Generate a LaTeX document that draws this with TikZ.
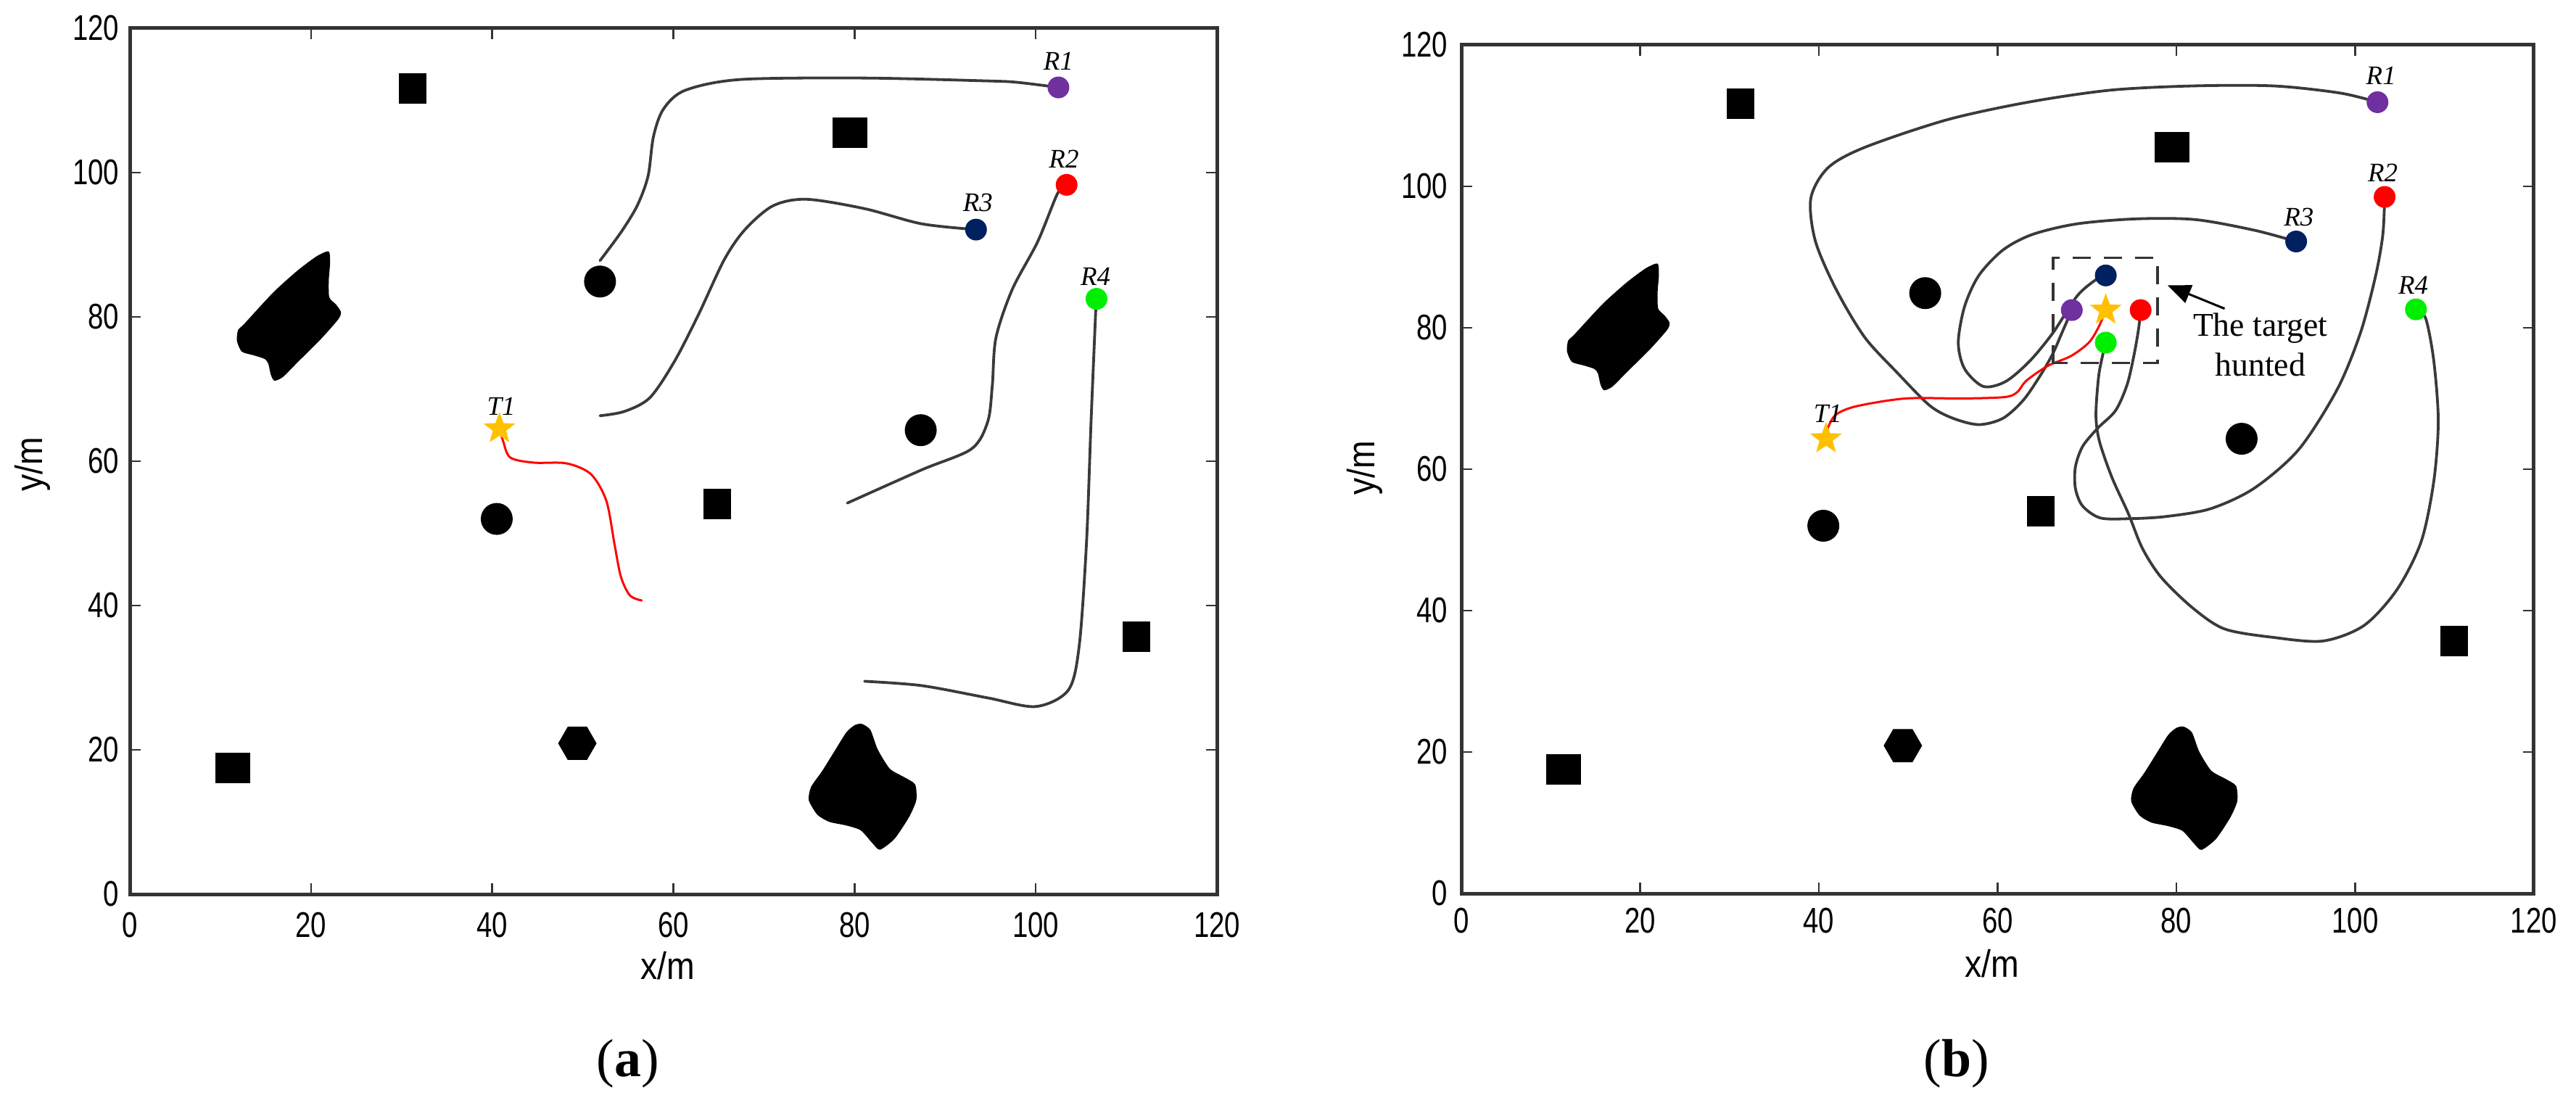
\documentclass[tikz,border=0pt]{standalone}
\usepackage{fontspec}
\setmainfont{Liberation Serif}
\newfontfamily\tickfont[FakeStretch=0.78]{Liberation Sans}
\newfontfamily\axfont[FakeStretch=0.88]{Liberation Sans}
\usetikzlibrary{shapes.geometric,arrows.meta}
\definecolor{rpurple}{HTML}{7030A0}
\definecolor{rnavy}{HTML}{002060}
\definecolor{rred}{HTML}{FF0000}
\definecolor{rgreen}{HTML}{00EE00}
\definecolor{rgold}{HTML}{FFC000}
\definecolor{axgray}{HTML}{333333}
\definecolor{trajgray}{HTML}{3A3A3A}
\tikzset{
  frame/.style={draw=axgray, line width=0.05cm},
  tickline/.style={draw=axgray, line width=0.025cm},
  ticklab/.style={font=\tickfont\fontsize{14}{16}\selectfont, inner sep=0pt},
  axlab/.style={font=\axfont\fontsize{15}{17}\selectfont, inner sep=0pt},
  sqbig/.style={fill=black, minimum width=0.48cm, minimum height=0.42cm, inner sep=0pt},
  sqsmall/.style={fill=black, minimum width=0.38cm, minimum height=0.42cm, inner sep=0pt},
  obscirc/.style={circle, fill=black, minimum size=0.44cm, inner sep=0pt},
  hexa/.style={regular polygon, regular polygon sides=6, fill=black, minimum size=0.53cm, inner sep=0pt},
  robot/.style={circle, minimum size=0.30cm, inner sep=0pt},
  target/.style={star, star points=5, star point ratio=2.4, fill=rgold, minimum size=0.46cm, inner sep=0pt},
  rlab/.style={font=\fontsize{10.5}{12}\selectfont\itshape, inner sep=0pt},
  traj/.style={draw=trajgray, line width=0.038cm, line join=round, line cap=round},
  ttraj/.style={draw=rred, line width=0.03cm, line join=round, line cap=round},
  hbox/.style={draw=axgray, line width=0.035cm, dash pattern=on 0.25cm off 0.18cm},
  harrow/.style={draw=black, line width=0.03cm, -{Triangle[length=0.32cm,width=0.26cm]}},
  caplab/.style={font=\fontsize{21}{24}\selectfont, inner sep=0pt},
}
\newcommand\drawobstacles[1]{%
  \node[sqbig] (#1sqa) at (79.5,105.5) {};
  \node[sqbig] (#1sqb) at (11.4,17.5) {};
  \node[sqsmall] (#1sqc) at (31.2,111.7) {};
  \node[sqsmall] (#1sqd) at (64.8,54.1) {};
  \node[sqsmall] (#1sqe) at (111.1,35.7) {};
  \node[obscirc] (#1ca) at (51.9,84.9) {};
  \node[obscirc] (#1cb) at (40.5,52.0) {};
  \node[obscirc] (#1cc) at (87.3,64.3) {};
  \node[hexa] (#1hx) at (49.4,20.9) {};
  \fill[black] plot[smooth cycle, tension=0.4] coordinates {
    (21.96,89.08) (22.10,87.41) (21.96,85.06) (22.02,82.71) (22.76,81.71)
    (23.30,80.70) (23.03,79.70) (21.16,77.02) (18.49,73.67) (16.89,71.66)
    (15.96,71.16) (15.56,71.99) (15.29,73.50) (14.89,74.17) (13.69,74.67)
    (12.36,75.18) (11.82,76.68) (11.95,78.19) (12.62,79.02) (15.83,83.39)
    (18.49,86.40) (20.63,88.41)};
  \fill[black] plot[smooth cycle, tension=0.4] coordinates {
    (80.81,23.59) (81.75,22.75) (82.55,20.07) (83.88,17.39) (85.48,16.21)
    (86.68,15.21) (86.81,13.03) (86.01,10.68) (84.41,7.67) (82.81,6.16)
    (82.01,7.00) (80.68,8.84) (79.08,9.52) (77.21,10.02) (75.88,11.02)
    (74.94,13.03) (75.20,14.87) (76.41,17.05) (77.74,19.73) (79.08,22.41)
    (80.01,23.42)};
}
\newcommand\drawframe[3]{%
  \foreach \v in {20,40,...,100} {
    \draw[tickline] (\v,0) -- ++(0,0.15cm);
    \draw[tickline] (\v,120) -- ++(0,-0.15cm);
    \draw[tickline] (0,\v) -- ++(0.15cm,0);
    \draw[tickline] (120,\v) -- ++(-0.15cm,0);
  }
  \foreach \v in {0,20,...,120} {
    \node[ticklab, yshift=-#2] (#1xt\v) at (\v,0) {\v};
    \node[ticklab, anchor=east, xshift=-#3] (#1yt\v) at (0,\v) {\v};
  }
  \draw[frame] (0,0) rectangle (120,120);
}
\begin{document}
\begin{tikzpicture}
\useasboundingbox (0,0) rectangle (35.52,15.20);
\fill[white] (0,0) rectangle (35.52,15.20);

% ---------------- panel (a) ----------------
\begin{scope}[shift={(1.79cm,2.87cm)}, x=0.12492cm, y=0.0995cm]
  \drawobstacles{a}
  \coordinate (aR1p) at (102.5,111.8);
  \coordinate (aR2p) at (103.4,98.3);
  \coordinate (aR3p) at (93.4,92.1);
  \coordinate (aR4p) at (106.7,82.5);
  \coordinate (aT1p) at (40.8,64.5);
  \coordinate (aR1e) at (51.9,87.8);
  \coordinate (aR2e) at (79.2,54.2);
  \coordinate (aR3e) at (51.9,66.3);
  \coordinate (aR4e) at (81.1,29.5);
  \coordinate (aT1e) at (56.5,40.7);
  \draw[traj] plot[smooth, tension=0.5] coordinates {(aR1p) (98,112.5) (94.7,112.7) (81.1,113.1) (67.4,112.9) (61.3,111.4) (58.9,108.8) (57.8,105.0) (57.2,99.5) (56.0,95.4) (54.2,91.7) (aR1e)};
  \draw[traj] plot[smooth, tension=0.5] coordinates {(aR3p) (87.4,92.9) (81.1,95.0) (74.7,96.3) (71.0,95.4) (67.9,92.1) (65.6,87.9) (62.8,80.4) (60.1,73.8) (57.4,68.8) (54.6,66.9) (aR3e)};
  \draw[traj] plot[smooth, tension=0.5] coordinates {(aR2p) (102.4,97.1) (100.2,90.4) (97.4,83.8) (95.6,77.1) (95.2,70.5) (94.7,65.5) (92.9,61.7) (87.4,58.8) (aR2e)};
  \draw[traj] plot[smooth, tension=0.5] coordinates {(aR4p) (106.6,80.4) (106.1,65.5) (105.6,48.8) (104.8,34.5) (103.6,28.3) (100.0,26.0) (94.7,27.2) (87.4,28.9) (aR4e)};
  \draw[ttraj] plot[smooth, tension=0.5] coordinates {(aT1p) (41.2,62.8) (42.0,60.5) (44.6,59.8) (48.2,59.7) (50.9,58.2) (52.6,54.5) (53.5,48.5) (54.2,44.0) (55.2,41.4) (aT1e)};
  \node[robot, fill=rpurple] (aR1) at (aR1p) {};
  \node[robot, fill=rred] (aR2) at (aR2p) {};
  \node[robot, fill=rnavy] (aR3) at (aR3p) {};
  \node[robot, fill=rgreen] (aR4) at (aR4p) {};
  \node[target] (aT1) at (aT1p) {};
  \node[rlab] (aR1l) at (102.5,115.4) {R1};
  \node[rlab] (aR2l) at (103.1,101.9) {R2};
  \node[rlab] (aR3l) at (93.6,95.8) {R3};
  \node[rlab] (aR4l) at (106.6,85.6) {R4};
  \node[rlab] (aT1l) at (41.0,67.6) {T1};
  \drawframe{a}{0.43cm}{0.14cm}
\end{scope}
\node[axlab, anchor=base] (axl) at (9.21,1.70) {x/m};
\node[axlab, rotate=90] (ayl) at (0.45,8.80) {y/m};
\node[caplab] (capa) at (8.66,0.53) {(\textbf{a})};

% ---------------- panel (b) ----------------
\begin{scope}[shift={(20.15cm,2.88cm)}, x=0.12325cm, y=0.0975cm]
  \drawobstacles{b}
  \coordinate (bR1p) at (102.5,111.9);
  \coordinate (bR2p) at (103.3,98.5);
  \coordinate (bR3p) at (93.4,92.2);
  \coordinate (bR4p) at (106.8,82.6);
  \coordinate (bT1p) at (40.8,64.3);
  \coordinate (bR1e) at (68.3,82.5);
  \coordinate (bR2e) at (76.0,82.5);
  \coordinate (bR3e) at (72.1,87.4);
  \coordinate (bR4e) at (72.1,77.9);
  \coordinate (bT1e) at (72.1,82.5);
  \draw[traj] plot[smooth, tension=0.5] coordinates {(bR1p) (98.3,113.2) (90.9,114.2) (81.8,114.2) (72.6,113.6) (63.4,111.9) (54.3,109.4) (45.1,105.5) (41.0,102.6) (39.1,98.3) (39.6,92.3) (41.9,85.5) (45.1,78.7) (48.8,73.6) (52.4,69.0) (55.0,67.2) (57.9,66.3) (60.6,67.2) (62.9,69.8) (64.9,73.5) (66.2,76.4) (67.2,79.3) (bR1e)};
  \draw[traj] plot[smooth, tension=0.5] coordinates {(bR3p) (88.7,93.8) (82.1,95.3) (75.5,95.4) (68.9,94.7) (63.9,93.2) (60.6,91.0) (57.9,87.4) (56.3,83.0) (55.6,77.9) (56.3,74.2) (58.4,71.7) (60.9,72.4) (63.6,75.3) (66.2,79.3) (68.9,84.5) (71.0,86.8) (bR3e)};
  \draw[traj] plot[smooth, tension=0.5] coordinates {(bR2p) (103.1,93.2) (102.3,87.4) (100.6,79.3) (98.0,71.3) (93.7,62.8) (88.7,57.3) (83.8,54.4) (78.8,53.3) (74.8,53.0) (71.5,53.1) (69.5,54.8) (68.7,57.3) (68.7,60.3) (69.5,63.2) (71.2,65.8) (73.2,68.3) (74.5,72.0) (75.3,76.4) (75.8,80.1) (bR2e)};
  \draw[traj] plot[smooth, tension=0.5] coordinates {(bR4p) (107.9,81.3) (108.8,75.3) (109.3,66.8) (108.8,58.3) (107.4,49.8) (104.7,43.0) (101.0,37.9) (96.4,35.7) (90.9,36.2) (85.4,37.4) (81.8,40.4) (78.3,44.7) (76.2,48.8) (74.6,53.8) (72.8,58.8) (71.4,63.9) (71.0,67.6) (71.3,73.1) (71.8,76.4) (bR4e)};
  \draw[ttraj] plot[smooth, tension=0.5] coordinates {(bT1p) (41.0,65.8) (41.9,67.7) (44.2,68.9) (49.7,70.0) (56.1,70.0) (60.8,70.2) (62.2,70.9) (63.2,72.5) (65.6,74.6) (68.2,76.0) (70.2,77.9) (71.3,80.1) (bT1e)};
  \draw[hbox] (66.2,75.0) rectangle (77.9,89.9);
  \node[robot, fill=rpurple] (bR1) at (bR1p) {};
  \node[robot, fill=rred] (bR2) at (bR2p) {};
  \node[robot, fill=rnavy] (bR3) at (bR3p) {};
  \node[robot, fill=rgreen] (bR4) at (bR4p) {};
  \node[robot, fill=rpurple] (bR1f) at (bR1e) {};
  \node[robot, fill=rred] (bR2f) at (bR2e) {};
  \node[robot, fill=rnavy] (bR3f) at (bR3e) {};
  \node[robot, fill=rgreen] (bR4f) at (bR4e) {};
  \node[target] (bT1) at (bT1p) {};
  \node[target] (bT1f) at (bT1e) {};
  \node[rlab] (bR1l) at (102.9,115.7) {R1};
  \node[rlab] (bR2l) at (103.1,101.9) {R2};
  \node[rlab] (bR3l) at (93.7,95.6) {R3};
  \node[rlab] (bR4l) at (106.5,86.0) {R4};
  \node[rlab] (bT1l) at (41.0,67.9) {T1};
  \node[font=\fontsize{13}{15.6}\selectfont, align=center, inner sep=0pt] (btxt) at (89.4,77.6) {The target\\hunted};
  \coordinate (arrtail) at (85.4,82.7);
  \coordinate (arrtip) at (79.0,86.0);
  \draw[harrow] (arrtail) -- (arrtip);
  \drawframe{b}{0.38cm}{0.18cm}
\end{scope}
\node[axlab, anchor=base] (bxl) at (27.47,1.73) {x/m};
\node[axlab, rotate=90] (byl) at (18.82,8.75) {y/m};
\node[caplab] (capb) at (26.98,0.53) {(\textbf{b})};
\end{tikzpicture}
\end{document}
